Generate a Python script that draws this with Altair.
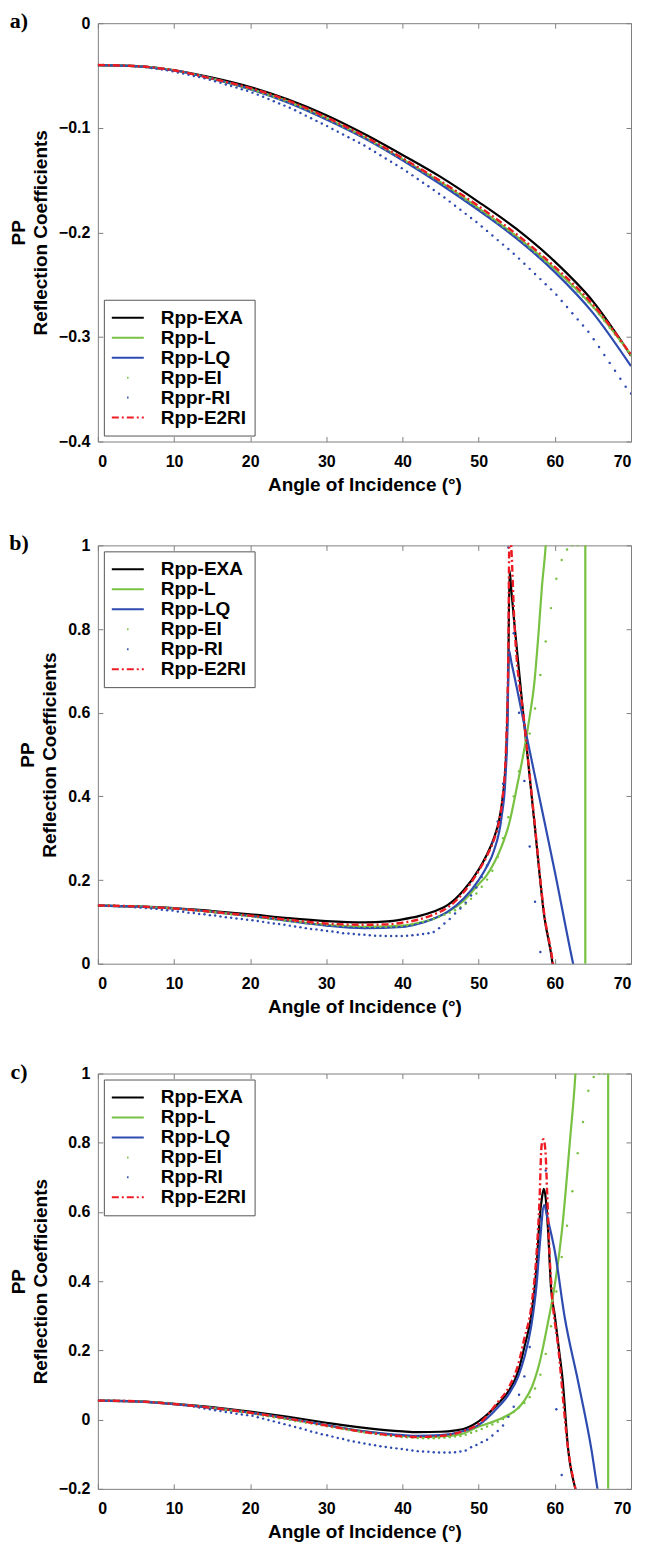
import altair as alt
import pandas as pd

FONT = "Liberation Sans"
BLACK, GREEN, BLUE, RED, FRAME = "#000000", "#78c142", "#2e4bb0", "#ed1c24", "#808080"

# ---------------- sample grid of the dotted series (degrees) ----------------
DOT_X = [0.0, 0.7, 1.4, 2.1, 2.8, 3.5, 4.2, 4.9, 5.6, 6.3,
         7.0, 7.7, 8.4, 9.1, 9.8, 10.5, 11.2, 11.9, 12.6, 13.3,
         14.0, 14.7, 15.4, 16.1, 16.8, 17.5, 18.2, 18.9, 19.6, 20.3,
         21.0, 21.7, 22.4, 23.1, 23.8, 24.5, 25.2, 25.9, 26.6, 27.3,
         28.0, 28.7, 29.4, 30.1, 30.8, 31.5, 32.2, 32.9, 33.6, 34.3,
         35.0, 35.7, 36.4, 37.1, 37.8, 38.5, 39.2, 39.9, 40.6, 41.3,
         42.0, 42.7, 43.4, 44.1, 44.8, 45.5, 46.2, 46.9, 47.6, 48.3,
         49.0, 49.7, 50.4, 51.1, 51.8, 52.5, 53.2, 53.9, 54.6, 55.3,
         56.0, 56.7, 57.4, 58.1, 58.8, 59.5, 60.2, 60.9, 61.6, 62.3,
         63.0, 63.7, 64.4, 65.1, 65.8, 66.5, 67.2, 67.9, 68.6, 69.3,
         70.0]

# ---------------- panel a ----------------
A_X = [0, 5, 10, 15, 20, 25, 30, 35, 40, 45, 50, 55, 60, 65, 70]
A_EXA = [-.040, -.041, -.045, -.052, -.061, -.073, -.088, -.106, -.126, -.147, -.171, -.197, -.228, -.266, -.318]
A_L = [-.040, -.041, -.045, -.053, -.063, -.075, -.091, -.109, -.130, -.152, -.177, -.204, -.235, -.271, -.317]
A_LQ = [-.040, -.041, -.045, -.053, -.063, -.076, -.092, -.110, -.131, -.154, -.179, -.206, -.238, -.277, -.328]
A_E2RI = [-.040, -.041, -.045, -.053, -.062, -.074, -.090, -.108, -.129, -.151, -.175, -.202, -.233, -.269, -.317]
A_EI = [-.0400, -.0400, -.0401, -.0402, -.0403, -.0405, -.0407, -.0410, -.0413, -.0418,
        -.0422, -.0428, -.0434, -.0440, -.0447, -.0458, -.0469, -.0480, -.0492, -.0503,
        -.0514, -.0526, -.0538, -.0552, -.0566, -.0580, -.0594, -.0608, -.0622, -.0637,
        -.0654, -.0671, -.0688, -.0705, -.0722, -.0739, -.0756, -.0779, -.0801, -.0824,
        -.0846, -.0868, -.0891, -.0913, -.0939, -.0964, -.0989, -.1014, -.1040, -.1065,
        -.1090, -.1119, -.1149, -.1178, -.1208, -.1237, -.1266, -.1296, -.1326, -.1357,
        -.1388, -.1419, -.1450, -.1480, -.1511, -.1545, -.1580, -.1615, -.1650, -.1685,
        -.1720, -.1755, -.1792, -.1829, -.1867, -.1905, -.1943, -.1981, -.2018, -.2059,
        -.2102, -.2145, -.2189, -.2232, -.2276, -.2319, -.2364, -.2415, -.2465, -.2516,
        -.2566, -.2616, -.2667, -.2719, -.2784, -.2848, -.2912, -.2977, -.3041, -.3106,
        -.3170]
A_RI = [-.0400, -.0400, -.0401, -.0402, -.0404, -.0406, -.0408, -.0411, -.0415, -.0421,
        -.0428, -.0435, -.0443, -.0451, -.0459, -.0471, -.0482, -.0493, -.0504, -.0515,
        -.0526, -.0540, -.0555, -.0570, -.0586, -.0601, -.0616, -.0632, -.0647, -.0664,
        -.0683, -.0704, -.0725, -.0746, -.0767, -.0788, -.0808, -.0833, -.0858, -.0884,
        -.0909, -.0934, -.0959, -.0984, -.1011, -.1037, -.1064, -.1090, -.1117, -.1143,
        -.1170, -.1201, -.1232, -.1262, -.1293, -.1324, -.1355, -.1386, -.1420, -.1455,
        -.1490, -.1525, -.1560, -.1595, -.1630, -.1667, -.1706, -.1745, -.1784, -.1823,
        -.1862, -.1901, -.1943, -.1986, -.2030, -.2074, -.2117, -.2160, -.2204, -.2251,
        -.2300, -.2349, -.2398, -.2447, -.2496, -.2545, -.2597, -.2656, -.2714, -.2773,
        -.2832, -.2891, -.2950, -.3022, -.3097, -.3173, -.3248, -.3324, -.3400, -.3476,
        -.3540]

# ---------------- panel b ----------------
B_EXA_X = [0, 5, 10, 15, 20, 25, 30, 35, 38, 40, 42, 44, 46, 48, 50, 51, 52, 52.7, 53.1, 53.6,
           53.9, 54.05, 54.3, 54.65, 56, 57.3, 58.6, 59.7, 60.2]
B_EXA = [.139, .137, .133, .126, .118, .109, .102, .099, .101, .106, .113, .124, .141, .175, .225, .258, .300, .345, .39, .50,
         .72, .94, .89, .82, .57, .34, .115, 0.0, -.08]
B_L_X = [0, 5, 10, 15, 20, 25, 30, 35, 40, 42, 44, 46, 48, 50, 51, 52, 53, 54, 55.1, 55.96,
         56.6, 57.3, 57.9, 58.3, 58.8, 59.5, 61, 62.5, 63.5, 63.95, 64.05, 65, 67, 70]
B_L = [.139, .137, .132, .124, .114, .103, .093, .088, .091, .097, .107, .124, .150, .190, .210, .240, .280, .335, .43, .51,
       .58, .67, .80, .90, 1.0, 1.25, 2.0, 5.0, 20, 300, -300, -20, -5, -2]
B_LQ_X = [0, 5, 10, 15, 20, 25, 30, 35, 40, 42, 44, 46, 48, 50, 51, 52, 53, 53.5, 53.8, 53.95,
          54.3, 55, 56, 58, 60, 62.4, 63]
B_LQ = [.139, .137, .132, .124, .114, .102, .091, .085, .088, .095, .107, .125, .155, .20, .23, .27, .35, .44, .58, .75,
        .72, .66, .57, .395, .22, 0.0, -.05]
B_E2RI_X = [0, 5, 10, 15, 20, 25, 30, 35, 38, 40, 42, 44, 46, 48, 50, 51, 52, 52.7, 53.1, 53.6,
            53.9, 54.05, 54.3, 54.65, 56, 57.3, 58.6, 59.75, 60.2]
B_E2RI = [.139, .137, .132, .124, .115, .105, .096, .093, .094, .098, .105, .117, .135, .170, .222, .255, .296, .342, .39, .52,
          .76, 1.05, .99, .83, .575, .345, .12, 0.0, -.07]
B_EI = [.139, .139, .139, .139, .138, .138, .138, .137, .137, .136,
        .135, .134, .133, .133, .132, .131, .130, .129, .128, .126,
        .125, .124, .123, .121, .120, .118, .117, .115, .114, .113,
        .111, .109, .108, .106, .105, .103, .102, .100, .099, .097,
        .096, .095, .094, .093, .092, .091, .090, .090, .089, .089,
        .088, .088, .088, .088, .088, .089, .089, .090, .092, .094,
        .097, .100, .103, .107, .112, .117, .122, .128, .135, .143,
        .155, .168, .184, .201, .222, .255, .300, .350, .400, .460,
        .510, .550, .610, .690, .770, .850, .920, .965, .990, 1.0,
        1.0, 1.5, -.8, -.6, -.5, -.45, -.4, -.38, -.35, -.33,
        -.31]
B_RI = [.139, .139, .138, .138, .137, .137, .136, .135, .134, .133,
        .132, .131, .129, .128, .127, .125, .124, .122, .121, .119,
        .118, .116, .115, .113, .111, .110, .108, .107, .105, .104,
        .102, .100, .098, .096, .095, .093, .091, .089, .087, .085,
        .083, .082, .080, .078, .077, .075, .073, .072, .071, .070,
        .069, .068, .067, .067, .066, .066, .066, .066, .067, .068,
        .069, .071, .073, .076, .085, .096, .107, .120, .132, .146,
        .163, .182, .207, .235, .290, .340, .430, .995, .790, .600,
        .437, .280, .148, .028, -.09, -.2, -.3, -.4, -.5, -.6,
        -.7, -.8, -.9, -1, -1, -1, -1, -1, -1, -1,
        -1]

# ---------------- panel c ----------------
C_EXA_X = [0, 5, 10, 15, 20, 25, 30, 35, 40, 42, 45, 47, 48, 50, 52.5, 54, 55.2, 56, 56.9, 57.6,
           58, 58.3, 58.55, 58.8, 59.1, 59.5, 60, 60.5, 61, 61.75, 62.8, 63.2]
C_EXA = [.055, .053, .046, .036, .023, .008, -.009, -.024, -.034, -.036, -.035, -.031, -.027, -.005, .045, .085, .14, .21, .30, .44,
         .58, .64, .667, .64, .55, .38, .30, .21, .12, -.086, -.21, -.25]
C_L_X = [0, 5, 10, 15, 20, 25, 30, 35, 40, 43, 46, 48, 50, 52, 54, 55, 56, 57, 58, 59,
         60, 60.9, 62, 62.7, 63.5, 65, 66.5, 66.95, 67.05, 68, 70]
C_L = [.055, .053, .045, .034, .020, .003, -.016, -.034, -.047, -.050, -.047, -.040, -.020, -.005, .015, .03, .055, .095, .165, .27,
       .39, .54, .81, 1.0, 1.4, 3.0, 20, 400, -400, -10, -3]
C_LQ_X = [0, 5, 10, 15, 20, 25, 30, 35, 40, 42, 45, 48, 50, 52.5, 54, 55.2, 56, 56.9, 57.6, 58,
          58.6, 59, 60, 61.3, 63.1, 64.8, 65.6, 66]
C_LQ = [.055, .053, .045, .034, .020, .003, -.016, -.034, -.045, -.047, -.045, -.033, -.015, .035, .075, .125, .18, .27, .39, .50,
        .62, .585, .486, .295, .105, -.086, -.2, -.25]
C_E2RI_X = [0, 5, 10, 15, 20, 25, 30, 35, 40, 42, 45, 48, 50, 52.5, 54, 55.2, 56, 56.9, 57.6, 58,
            58.25, 58.5, 58.75, 59, 59.3, 59.6, 60.44, 61.75, 62.8, 63.2]
C_E2RI = [.055, .053, .045, .034, .020, .003, -.017, -.036, -.048, -.050, -.047, -.033, -.012, .05, .095, .16, .235, .325, .48, .64,
          .79, .81, .78, .65, .48, .37, .21, -.086, -.21, -.25]
C_EI = [.055, .055, .055, .055, .054, .054, .054, .053, .053, .052,
        .051, .050, .049, .048, .046, .045, .043, .042, .040, .038,
        .036, .034, .032, .030, .028, .026, .024, .022, .020, .018,
        .015, .012, .010, .007, .004, .002, -.001, -.004, -.006, -.009,
        -.011, -.014, -.016, -.019, -.022, -.024, -.027, -.030, -.032, -.035,
        -.037, -.039, -.041, -.043, -.045, -.047, -.048, -.050, -.051, -.052,
        -.053, -.054, -.054, -.054, -.053, -.052, -.051, -.049, -.047, -.044,
        -.038, -.033, -.027, -.020, -.014, -.007, .002, .012, .022, .035,
        .048, .065, .090, .130, .190, .270, .370, .470, .560, .660,
        .770, .860, .950, .990, 1.0, 1.0, 1.6, -1, -1, -1,
        -1]
C_RI = [.055, .055, .055, .055, .054, .054, .053, .053, .052, .051,
        .050, .049, .048, .047, .045, .044, .042, .040, .038, .035,
        .032, .030, .027, .025, .022, .020, .017, .015, .013, .011,
        .007, .003, -.001, -.005, -.009, -.013, -.017, -.021, -.025, -.029,
        -.034, -.038, -.042, -.045, -.049, -.053, -.056, -.060, -.063, -.066,
        -.069, -.072, -.074, -.077, -.079, -.081, -.083, -.085, -.087, -.089,
        -.091, -.092, -.093, -.094, -.095, -.095, -.095, -.094, -.092, -.089,
        -.080, -.073, -.065, -.058, -.046, -.033, -.017, .008, .037, .072,
        .125, .210, .360, .580, .720, .400, .030, -.16, -.35, -.5,
        -.6, -.7, -.8, -.9, -1, -1, -1, -1, -1, -1,
        -1]

X_TICKS = [0, 10, 20, 30, 40, 50, 60, 70]
A_TICKS = [-0.4, -0.3, -0.2, -0.1, 0]
B_TICKS = [0, 0.2, 0.4, 0.6, 0.8, 1]
C_TICKS = [-0.2, 0, 0.2, 0.4, 0.6, 0.8, 1]


def sdf(label, xs, ys):
    if len(xs) != len(ys):
        raise ValueError(f"{label}: {len(xs)} x vs {len(ys)} y")
    return pd.DataFrame({"x": xs, "y": ys, "s": label})


def make_panel(tag, ydom, yticks, height, legend_orient, names, lines, dots):
    xs = alt.Scale(domain=[0, 70], nice=False, zero=False)
    ys = alt.Scale(domain=ydom, nice=False, zero=False)
    cs = alt.Scale(domain=names, range=[BLACK, GREEN, BLUE, GREEN, BLUE, RED])
    isdot = f"(datum.value === '{names[3]}' || datum.value === '{names[4]}')"
    legend = alt.Legend(
        title=None, orient=legend_orient, offset=6, padding=8, rowPadding=0,
        strokeColor="#555555", fillColor="white",
        labelFont=FONT, labelFontSize=19, labelFontWeight="bold", labelColor="black",
        symbolSize=324, symbolStrokeWidth=2, symbolOffset=6, labelOffset=23,
        symbolType=alt.ExprRef(expr=f"{isdot} ? 'M-0.08,0L0.08,0' : 'M-1.78,0L1.78,0'"),
        symbolDash=alt.ExprRef(expr=f"datum.value === '{names[5]}' ? [7,3,2,3] : [1,0]"),
    )
    xaxis = alt.Axis(values=X_TICKS, ticks=False, domain=False, grid=False,
                     labelFont=FONT, labelFontSize=16, labelFontWeight="bold", labelColor="black",
                     labelPadding=12, labelOverlap=False,
                     title="Angle of Incidence (°)", titleFont=FONT, titleFontSize=19,
                     titleFontWeight="bold", titleColor="black", titlePadding=6)
    yaxis = alt.Axis(values=yticks, format="~g", ticks=False, domain=False, grid=False,
                     labelFont=FONT, labelFontSize=16, labelFontWeight="bold", labelColor="black",
                     labelPadding=8, labelOverlap=False,
                     title=["PP", "Reflection Coefficients"], titleFont=FONT, titleFontSize=19,
                     titleFontWeight="bold", titleColor="black", titlePadding=8, titleLineHeight=22)

    layers = []
    first = True
    for kind, label, xv, yv, width, dash in lines + dots:
        df = sdf(label, xv, yv)
        if kind == "line":
            props = dict(clip=True, strokeWidth=width, interpolate="monotone")
            if dash:
                props["strokeDash"] = dash
            m = alt.Chart(df).mark_line(**props)
        else:
            m = alt.Chart(df).mark_circle(clip=True, size=width, opacity=1)
        layers.append((label, m.encode(
            x=alt.X("x:Q", scale=xs, axis=xaxis if first else None),
            y=alt.Y("y:Q", scale=ys, axis=yaxis if first else None),
            color=alt.Color("s:N", scale=cs, legend=legend if first else None),
        )))
        first = False
    layers = [c for n in names for (l, c) in layers if l == n]

    tk = dict(labels=False, domain=False, grid=False, ticks=True, tickSize=5,
              tickColor=FRAME, tickWidth=1, title=None, offset=-5)
    tdf = pd.DataFrame({"x": [0], "y": [ydom[0]]})
    t1 = alt.Chart(tdf).mark_point(opacity=0).encode(
        x=alt.X("x:Q", scale=xs, axis=alt.Axis(orient="bottom", values=X_TICKS, **tk)),
        y=alt.Y("y:Q", scale=ys, axis=alt.Axis(orient="left", values=yticks, **tk)))
    t2 = alt.Chart(tdf).mark_point(opacity=0).encode(
        x=alt.X("x:Q", scale=xs, axis=alt.Axis(orient="top", values=X_TICKS, **tk)),
        y=alt.Y("y:Q", scale=ys, axis=alt.Axis(orient="right", values=yticks, **tk)))
    lab = alt.Chart(pd.DataFrame({"t": [tag]})).mark_text(
        font="Liberation Serif", fontSize=22, fontWeight="bold", align="center",
        baseline="middle", color="black").encode(text="t:N", x=alt.value(-79), y=alt.value(-2))

    return alt.layer(*layers, t1, t2, lab).resolve_axis(
        x="independent", y="independent").properties(width=534, height=height)


def series(names, d):
    return (
        [("line", names[0], d["EXA_X"], d["EXA"], 2.2, None),
         ("line", names[1], d["L_X"], d["L"], 2.2, None),
         ("line", names[2], d["LQ_X"], d["LQ"], 2.2, None),
         ("line", names[5], d["E2RI_X"], d["E2RI"], 2.4, [7, 3, 2, 3])],
        [("dot", names[3], DOT_X, d["EI"], 6, None),
         ("dot", names[4], DOT_X, d["RI"], 6, None)],
    )


NAMES_A = ["Rpp-EXA", "Rpp-L", "Rpp-LQ", "Rpp-EI", "Rppr-RI", "Rpp-E2RI"]
NAMES_BC = ["Rpp-EXA", "Rpp-L", "Rpp-LQ", "Rpp-EI", "Rpp-RI", "Rpp-E2RI"]

la, da = series(NAMES_A, dict(EXA_X=A_X, EXA=A_EXA, L_X=A_X, L=A_L, LQ_X=A_X, LQ=A_LQ,
                              E2RI_X=A_X, E2RI=A_E2RI, EI=A_EI, RI=A_RI))
lb, db = series(NAMES_BC, dict(EXA_X=B_EXA_X, EXA=B_EXA, L_X=B_L_X, L=B_L, LQ_X=B_LQ_X, LQ=B_LQ,
                               E2RI_X=B_E2RI_X, E2RI=B_E2RI, EI=B_EI, RI=B_RI))
lc, dc = series(NAMES_BC, dict(EXA_X=C_EXA_X, EXA=C_EXA, L_X=C_L_X, L=C_L, LQ_X=C_LQ_X, LQ=C_LQ,
                               E2RI_X=C_E2RI_X, E2RI=C_E2RI, EI=C_EI, RI=C_RI))

pa = make_panel("a)", [-0.4, 0], A_TICKS, 419, "bottom-left", NAMES_A, la, da)
pb = make_panel("b)", [0, 1], B_TICKS, 419, "top-left", NAMES_BC, lb, db)
pc = make_panel("c)", [-0.2, 1], C_TICKS, 416, "top-left", NAMES_BC, lc, dc)

top = alt.vconcat(pa, pb, spacing=36).resolve_scale(color="independent").resolve_legend(color="independent")
chart = alt.vconcat(top, pc, spacing=42).resolve_scale(color="independent").resolve_legend(
    color="independent").configure_view(stroke=FRAME, strokeWidth=1).properties(
    padding={"left": 0, "top": 0, "right": 5, "bottom": 0}, background="white")

chart.save("out.html", embed_options={"renderer": "svg", "actions": False})
